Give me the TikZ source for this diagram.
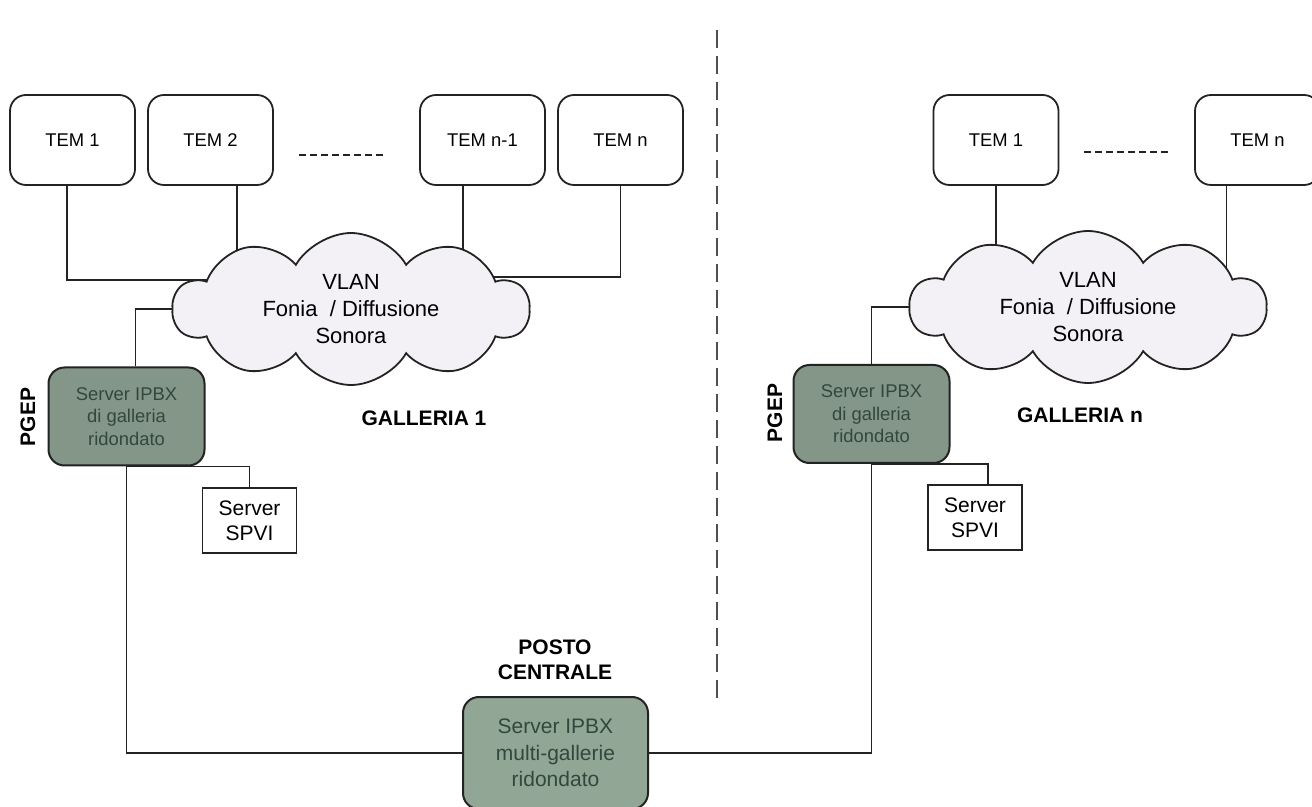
\documentclass[tikz,border=0pt]{standalone}
\usepackage{fontspec}
\setmainfont{Liberation Sans}
\usetikzlibrary{shapes.symbols,backgrounds}

\definecolor{srvfill}{RGB}{132,150,136}
\definecolor{cenfill}{RGB}{146,166,150}
\definecolor{srvtext}{RGB}{50,72,60}
\definecolor{cloudfill}{RGB}{243,241,246}
\definecolor{linecol}{RGB}{35,35,35}

\begin{document}
\begin{tikzpicture}[
        x=0.5pt, y=-0.5pt,
        tem/.style={
        draw=linecol,
        line width=0.9pt,
        rounded corners=8pt,
        minimum width=62.5pt,
        minimum height=45pt,
        font=\fontsize{9.2}{11}\selectfont
      },
        vlan/.style={
        cloud, cloud puffs=10, cloud puff arc=120, cloud ignores aspect,
        draw=linecol,
        line width=0.9pt,
        fill=cloudfill,
        minimum width=178pt,
        minimum height=76pt,
        inner sep=0pt,
        align=center,
        font=\fontsize{11}{13.7}\selectfont
      },
        ipbx/.style={
        draw=linecol,
        line width=1pt,
        rounded corners=8pt,
        fill=srvfill,
        text=srvtext,
        align=center,
        minimum width=78pt,
        minimum height=49pt,
        font=\fontsize{9.2}{11.25}\selectfont
      },
        spvi/.style={
        draw=linecol,
        line width=0.8pt,
        align=center,
        minimum width=47pt,
        minimum height=32.5pt,
        font=\fontsize{10.5}{12.5}\selectfont
      },
      lbl/.style={font=\bfseries\fontsize{10.5}{12.5}\selectfont, align=center},
      link/.style={draw=linecol, line width=0.75pt},
      dots/.style={draw=linecol, line width=1pt, dash pattern=on 3.5pt off 2pt}
    ]

    \useasboundingbox (0,0) rectangle (1312,807);

    % galleria 1
    \node[tem] (tem1) at (72.5, 140) {TEM 1};
    \node[tem] (tem2) at (210.5, 140) {TEM 2};
    \node[tem] (temn1) at (482.5, 140) {TEM n-1};
    \node[tem] (temn) at (620.5, 140) {TEM n};

    \node[vlan] (cl1) at (351, 309) {VLAN\\Fonia\ \ / Diffusione\\Sonora};

    \node[ipbx] (srv1) at (126.5, 416.5) {Server IPBX\\di galleria\\ridondato};
    \node[spvi] (spvi1) at (249.5, 520.5) {Server\\SPVI};
    \node[lbl, rotate=90] (pgep1) at (28, 417) {PGEP};
    \node[lbl] (gal1) at (424, 418) {GALLERIA 1};

    % galleria n
    \node[tem] (rtem1) at (996, 140) {TEM 1};
    \node[tem] (rtemn) at (1257.5, 140) {TEM n};

    \node[vlan] (cl2) at (1088, 307) {VLAN\\Fonia\ \ / Diffusione\\Sonora};

    \node[ipbx] (srv2) at (871.5, 414) {Server IPBX\\di galleria\\ridondato};
    \node[spvi] (spvi2) at (975, 517.5) {Server\\SPVI};
    \node[lbl, rotate=90] (pgep2) at (775, 413) {PGEP};
    \node[lbl] (gal2) at (1080, 415) {GALLERIA n};

    % posto centrale
    \node[lbl] (posto) at (555, 660) {POSTO\\CENTRALE};
    \node[ipbx, fill=cenfill, minimum width=92.5pt, minimum height=56pt,
      font=\fontsize{10.5}{13.25}\selectfont] (cen) at (555.5, 753)
      {Server IPBX\\multi-gallerie\\ridondato};

    % separatori
    \coordinate (d1a) at (299, 155);
    \coordinate (d1b) at (383, 155);
    \coordinate (d2a) at (1084, 152);
    \coordinate (d2b) at (1168, 152);
    \coordinate (divtop) at (717, 30);
    \coordinate (divbot) at (717, 700);

    \draw[dots] (d1a) -- (d1b);
    \draw[dots] (d2a) -- (d2b);
    \draw[draw=linecol!80, line width=0.9pt, dash pattern=on 9pt off 4pt] (divtop) -- (divbot);

    \begin{scope}[on background layer]
    \draw[link] (tem1.-97) |- ([yshift=14.5pt]cl1.center);
    \draw[link] (tem2.-60) -- (tem2.-60 |- cl1.center);
    \draw[link] (temn1.-113) -- (temn1.-113 |- cl1.center);
    \draw[link] (temn.south) |- ([yshift=16pt]cl1.center);
    \draw[link] (srv1.80) |- (cl1.center);
    \draw[link] (srv1.south) -| (spvi1.north);
    \draw[link] (srv1.south) |- (cen.center);

    \draw[link] (rtem1.south) -- (rtem1.south |- cl2.center);
    \draw[link] (rtemn.-124) -- (rtemn.-124 |- cl2.center);
    \draw[link] (srv2.north) |- (cl2.center);
    \draw[link] (srv2.south) -| ([xshift=6.5pt]spvi2.north);
    \draw[link] (srv2.south) |- (cen.center);
    \end{scope}

  \end{tikzpicture}
\end{document}
